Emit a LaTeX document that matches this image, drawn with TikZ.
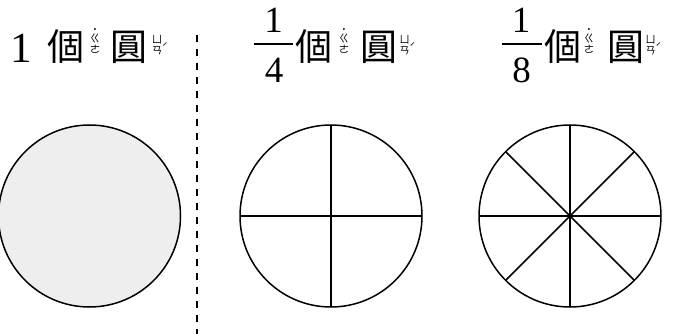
\documentclass[tikz,border=0pt]{standalone}
\usepackage{fontspec}
\setmainfont{Liberation Serif}
\newfontfamily\cjk{Noto Sans CJK TC}
\usetikzlibrary{positioning}
\definecolor{discgray}{RGB}{238,238,238}

\begin{document}
\begin{tikzpicture}[x=1pt,y=-1pt]
  \tikzstyle{han}=[inner sep=0pt,font=\cjk\fontsize{37}{37}\selectfont]
  \tikzstyle{bigdigit}=[inner sep=0pt,font=\fontsize{43}{43}\selectfont]
  \tikzstyle{digit}=[inner sep=0pt,font=\fontsize{37}{37}\selectfont]
  \tikzstyle{zhuyin}=[inner sep=0pt,font=\cjk\fontsize{10.5}{10.5}\selectfont]
  \tikzstyle{disc}=[draw,circle,minimum size=182pt,inner sep=0pt,outer sep=0pt,line width=1.5pt]
  \tikzstyle{spoke}=[line width=1.5pt]
  \tikzstyle{fracbar}=[line width=1.8pt]
  \useasboundingbox (0,0) rectangle (681,334);

  % 1 個圓
  \node[bigdigit] (one1) at (21,48) {1};
  \node[han] (ge1) at (66,47) {個};
  \node[zhuyin] (ge1dot) at (95,31) {˙};
  \node[zhuyin] (ge1a) at (95,39) {ㄍ};
  \node[zhuyin] (ge1b) at (95,49.5) {ㄜ};
  \node[han] (yuan1) at (129,47) {圓};
  \node[zhuyin] (yuan1a) at (157,39.5) {ㄩ};
  \node[zhuyin] (yuan1b) at (157,51) {ㄢ};
  \node[zhuyin] (yuan1t) at (165,47.5) {ˊ};
  \node[disc,fill=discgray] (disc1) at (89.5,216) {};

  % separator
  \coordinate (septop) at (197,35);
  \coordinate (sepbot) at (197,334);
  \draw[line width=1.8pt,dash pattern=on 7.3pt off 6.7pt] (septop) -- (sepbot);

  % 1/4 個圓
  \node[digit] (num2) at (273.5,20.5) {1};
  \coordinate (bar2l) at (254,44);
  \coordinate (bar2r) at (293,44);
  \draw[fracbar] (bar2l) -- (bar2r);
  \node[digit] (den2) at (274,70) {4};
  \node[han] (ge2) at (314,47) {個};
  \node[zhuyin] (ge2dot) at (344,31) {˙};
  \node[zhuyin] (ge2a) at (344,39) {ㄍ};
  \node[zhuyin] (ge2b) at (344,49.5) {ㄜ};
  \node[han] (yuan2) at (378.5,47) {圓};
  \node[zhuyin] (yuan2a) at (404.5,39.5) {ㄩ};
  \node[zhuyin] (yuan2b) at (404.5,51) {ㄢ};
  \node[zhuyin] (yuan2t) at (412.5,47.5) {ˊ};
  \node[disc] (disc2) at (331,216) {};
  \draw[spoke] (disc2.north) -- (disc2.south);
  \draw[spoke] (disc2.west) -- (disc2.east);

  % 1/8 個圓
  \node[digit] (num3) at (521,20.5) {1};
  \coordinate (bar3l) at (502,44);
  \coordinate (bar3r) at (542,44);
  \draw[fracbar] (bar3l) -- (bar3r);
  \node[digit] (den3) at (521.5,70) {8};
  \node[han] (ge3) at (562.5,47) {個};
  \node[zhuyin] (ge3dot) at (589,31) {˙};
  \node[zhuyin] (ge3a) at (589,39) {ㄍ};
  \node[zhuyin] (ge3b) at (589,49.5) {ㄜ};
  \node[han] (yuan3) at (626,47) {圓};
  \node[zhuyin] (yuan3a) at (650.5,39.5) {ㄩ};
  \node[zhuyin] (yuan3b) at (650.5,51) {ㄢ};
  \node[zhuyin] (yuan3t) at (658.5,47.5) {ˊ};
  \node[disc] (disc3) at (570,216) {};
  \draw[spoke] (disc3.north) -- (disc3.south);
  \draw[spoke] (disc3.west) -- (disc3.east);
  \draw[spoke] (disc3.45) -- (disc3.225);
  \draw[spoke] (disc3.135) -- (disc3.315);
\end{tikzpicture}
\end{document}
